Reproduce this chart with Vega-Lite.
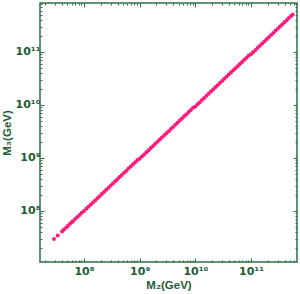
{
  "$schema": "https://vega.github.io/schema/vega-lite/v6.json",
  "width": 257,
  "height": 259,
  "autosize": {"type": "none"},
  "padding": {"left": 40, "top": 3, "right": 3, "bottom": 32},
  "background": "white",
  "data": {"values": [
    {"M2": 2.89e7, "M3": 2.95e7}, {"M2": 3.37e7, "M3": 3.44e7}, {"M2": 4.03e7, "M3": 4.11e7}, {"M2": 4.32e7, "M3": 4.41e7},
    {"M2": 4.75e7, "M3": 4.85e7}, {"M2": 5.16e7, "M3": 5.26e7}, {"M2": 5.61e7, "M3": 5.72e7}, {"M2": 6.09e7, "M3": 6.2e7},
    {"M2": 6.31e7, "M3": 6.42e7}, {"M2": 6.92e7, "M3": 7.04e7}, {"M2": 7.59e7, "M3": 7.71e7}, {"M2": 8.32e7, "M3": 8.44e7}, {"M2": 9.12e7, "M3": 9.24e7},
    {"M2": 1.0e8, "M3": 1.0e8}, {"M2": 1.096e8, "M3": 1.096e8}, {"M2": 1.202e8, "M3": 1.202e8}, {"M2": 1.318e8, "M3": 1.318e8}, {"M2": 1.445e8, "M3": 1.445e8},
    {"M2": 1.585e8, "M3": 1.585e8}, {"M2": 1.738e8, "M3": 1.738e8}, {"M2": 1.905e8, "M3": 1.905e8}, {"M2": 2.089e8, "M3": 2.089e8}, {"M2": 2.291e8, "M3": 2.291e8},
    {"M2": 2.512e8, "M3": 2.512e8}, {"M2": 2.754e8, "M3": 2.754e8}, {"M2": 3.02e8, "M3": 3.02e8}, {"M2": 3.311e8, "M3": 3.311e8}, {"M2": 3.631e8, "M3": 3.631e8},
    {"M2": 3.981e8, "M3": 3.981e8}, {"M2": 4.365e8, "M3": 4.365e8}, {"M2": 4.786e8, "M3": 4.786e8}, {"M2": 5.248e8, "M3": 5.248e8}, {"M2": 5.754e8, "M3": 5.754e8},
    {"M2": 6.31e8, "M3": 6.31e8}, {"M2": 6.918e8, "M3": 6.918e8}, {"M2": 7.586e8, "M3": 7.586e8}, {"M2": 8.318e8, "M3": 8.318e8}, {"M2": 9.12e8, "M3": 9.12e8},
    {"M2": 1.0e9, "M3": 9.7e8}, {"M2": 1.096e9, "M3": 1.063e9}, {"M2": 1.202e9, "M3": 1.166e9}, {"M2": 1.318e9, "M3": 1.278e9}, {"M2": 1.445e9, "M3": 1.402e9},
    {"M2": 1.585e9, "M3": 1.537e9}, {"M2": 1.738e9, "M3": 1.686e9}, {"M2": 1.905e9, "M3": 1.848e9}, {"M2": 2.089e9, "M3": 2.026e9}, {"M2": 2.291e9, "M3": 2.222e9},
    {"M2": 2.512e9, "M3": 2.437e9}, {"M2": 2.754e9, "M3": 2.671e9}, {"M2": 3.02e9, "M3": 2.929e9}, {"M2": 3.311e9, "M3": 3.212e9}, {"M2": 3.631e9, "M3": 3.522e9},
    {"M2": 3.981e9, "M3": 3.862e9}, {"M2": 4.365e9, "M3": 4.234e9}, {"M2": 4.786e9, "M3": 4.642e9}, {"M2": 5.248e9, "M3": 5.091e9}, {"M2": 5.754e9, "M3": 5.581e9},
    {"M2": 6.31e9, "M3": 6.121e9}, {"M2": 6.918e9, "M3": 6.71e9}, {"M2": 7.586e9, "M3": 7.358e9}, {"M2": 8.318e9, "M3": 8.068e9}, {"M2": 9.12e9, "M3": 8.846e9},
    {"M2": 1.0e10, "M3": 9.4e9}, {"M2": 1.096e10, "M3": 1.03e10}, {"M2": 1.202e10, "M3": 1.13e10}, {"M2": 1.318e10, "M3": 1.239e10}, {"M2": 1.445e10, "M3": 1.358e10},
    {"M2": 1.585e10, "M3": 1.49e10}, {"M2": 1.738e10, "M3": 1.634e10}, {"M2": 1.905e10, "M3": 1.791e10}, {"M2": 2.089e10, "M3": 1.964e10}, {"M2": 2.291e10, "M3": 2.154e10},
    {"M2": 2.512e10, "M3": 2.361e10}, {"M2": 2.754e10, "M3": 2.589e10}, {"M2": 3.02e10, "M3": 2.839e10}, {"M2": 3.311e10, "M3": 3.112e10}, {"M2": 3.631e10, "M3": 3.413e10},
    {"M2": 3.981e10, "M3": 3.742e10}, {"M2": 4.365e10, "M3": 4.103e10}, {"M2": 4.786e10, "M3": 4.499e10}, {"M2": 5.248e10, "M3": 4.933e10}, {"M2": 5.754e10, "M3": 5.409e10},
    {"M2": 6.31e10, "M3": 5.931e10}, {"M2": 6.918e10, "M3": 6.503e10}, {"M2": 7.586e10, "M3": 7.131e10}, {"M2": 8.318e10, "M3": 7.819e10}, {"M2": 9.12e10, "M3": 8.573e10},
    {"M2": 1.0e11, "M3": 9.1e10}, {"M2": 1.096e11, "M3": 9.97e10}, {"M2": 1.202e11, "M3": 1.094e11}, {"M2": 1.318e11, "M3": 1.199e11}, {"M2": 1.445e11, "M3": 1.315e11},
    {"M2": 1.585e11, "M3": 1.442e11}, {"M2": 1.738e11, "M3": 1.582e11}, {"M2": 1.905e11, "M3": 1.734e11}, {"M2": 2.089e11, "M3": 1.901e11}, {"M2": 2.291e11, "M3": 2.085e11},
    {"M2": 2.512e11, "M3": 2.286e11}, {"M2": 2.754e11, "M3": 2.506e11}, {"M2": 3.02e11, "M3": 2.748e11}, {"M2": 3.311e11, "M3": 3.013e11}, {"M2": 3.631e11, "M3": 3.304e11},
    {"M2": 3.981e11, "M3": 3.623e11}, {"M2": 4.365e11, "M3": 3.972e11}, {"M2": 4.786e11, "M3": 4.355e11}, {"M2": 5.248e11, "M3": 4.776e11}, {"M2": 5.6e11, "M3": 5.1e11}
  ]},
  "layer": [
    {
      "mark": {"type": "point", "filled": true, "shape": "circle", "size": 16, "color": "#ff1a7d", "opacity": 1},
      "encoding": {
        "x": {"field": "M2", "type": "quantitative",
              "scale": {"type": "log", "domain": [1.62e7, 6.7e11], "nice": false},
              "axis": {"orient": "bottom", "title": "M₂(GeV)", "values": [1e8, 1e9, 1e10, 1e11],
                       "labelExpr": "datum.value < 5e8 ? '10⁸' : datum.value < 5e9 ? '10⁹' : datum.value < 5e10 ? '10¹⁰' : '10¹¹'",
                       "tickSize": -4, "labelPadding": 7, "titlePadding": 3}},
        "y": {"field": "M3", "type": "quantitative",
              "scale": {"type": "log", "domain": [1.09e7, 8.4e11], "nice": false},
              "axis": {"orient": "left", "title": "M₃(GeV)", "values": [1e8, 1e9, 1e10, 1e11],
                       "labelExpr": "datum.value < 5e8 ? '10⁸' : datum.value < 5e9 ? '10⁹' : datum.value < 5e10 ? '10¹⁰' : '10¹¹'",
                       "tickSize": -4, "labelPadding": 4, "titlePadding": 3}}
      }
    },
    {
      "mark": {"type": "point", "opacity": 0},
      "encoding": {
        "x": {"field": "M2", "type": "quantitative",
              "axis": {"orient": "bottom", "title": null, "labels": false, "tickSize": -2,
                       "values": [2e7, 3e7, 4e7, 5e7, 6e7, 7e7, 8e7, 9e7, 2e8, 3e8, 4e8, 5e8, 6e8, 7e8, 8e8, 9e8, 2e9, 3e9, 4e9, 5e9, 6e9, 7e9, 8e9, 9e9, 2e10, 3e10, 4e10, 5e10, 6e10, 7e10, 8e10, 9e10, 2e11, 3e11, 4e11, 5e11, 6e11]}},
        "y": {"field": "M3", "type": "quantitative",
              "axis": {"orient": "left", "title": null, "labels": false, "tickSize": -2,
                       "values": [2e7, 3e7, 4e7, 5e7, 6e7, 7e7, 8e7, 9e7, 2e8, 3e8, 4e8, 5e8, 6e8, 7e8, 8e8, 9e8, 2e9, 3e9, 4e9, 5e9, 6e9, 7e9, 8e9, 9e9, 2e10, 3e10, 4e10, 5e10, 6e10, 7e10, 8e10, 9e10, 2e11, 3e11, 4e11, 5e11, 6e11, 7e11, 8e11]}}
      }
    },
    {
      "mark": {"type": "point", "opacity": 0},
      "encoding": {
        "x": {"field": "M2", "type": "quantitative",
              "axis": {"orient": "top", "title": null, "labels": false, "tickSize": -4, "values": [1e8, 1e9, 1e10, 1e11]}},
        "y": {"field": "M3", "type": "quantitative",
              "axis": {"orient": "right", "title": null, "labels": false, "tickSize": -4, "values": [1e8, 1e9, 1e10, 1e11]}}
      }
    },
    {
      "mark": {"type": "point", "opacity": 0},
      "encoding": {
        "x": {"field": "M2", "type": "quantitative",
              "axis": {"orient": "top", "title": null, "labels": false, "tickSize": -2,
                       "values": [2e7, 3e7, 4e7, 5e7, 6e7, 7e7, 8e7, 9e7, 2e8, 3e8, 4e8, 5e8, 6e8, 7e8, 8e8, 9e8, 2e9, 3e9, 4e9, 5e9, 6e9, 7e9, 8e9, 9e9, 2e10, 3e10, 4e10, 5e10, 6e10, 7e10, 8e10, 9e10, 2e11, 3e11, 4e11, 5e11, 6e11]}},
        "y": {"field": "M3", "type": "quantitative",
              "axis": {"orient": "right", "title": null, "labels": false, "tickSize": -2,
                       "values": [2e7, 3e7, 4e7, 5e7, 6e7, 7e7, 8e7, 9e7, 2e8, 3e8, 4e8, 5e8, 6e8, 7e8, 8e8, 9e8, 2e9, 3e9, 4e9, 5e9, 6e9, 7e9, 8e9, 9e9, 2e10, 3e10, 4e10, 5e10, 6e10, 7e10, 8e10, 9e10, 2e11, 3e11, 4e11, 5e11, 6e11, 7e11, 8e11]}}
      }
    }
  ],
  "resolve": {"axis": {"x": "independent", "y": "independent"}},
  "config": {
    "view": {"stroke": "#2f6f4a", "strokeWidth": 1.5},
    "axis": {"grid": false, "domain": false, "tickColor": "#2f6f4a", "tickWidth": 1,
             "labelColor": "#1f5c38", "titleColor": "#1f5c38",
             "labelFont": "DejaVu Sans", "titleFont": "Liberation Sans",
             "labelFontWeight": "bold", "titleFontWeight": "bold",
             "labelFontSize": 11, "titleFontSize": 11.5}
  }
}
